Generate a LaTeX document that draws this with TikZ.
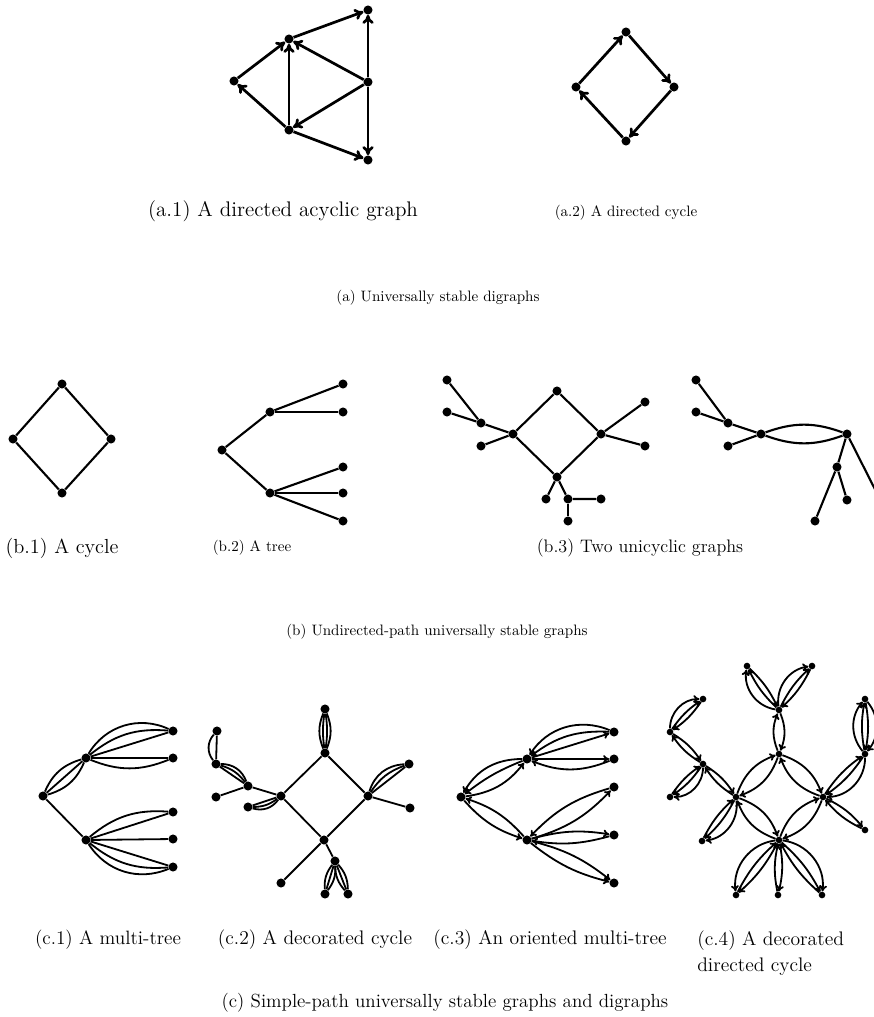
\documentclass[tikz,border=0pt]{standalone}
\usetikzlibrary{arrows.meta}

\tikzset{
  vert/.style={circle,fill=black,inner sep=0pt,minimum size=6pt},
  svert/.style={circle,fill=black,inner sep=0pt,minimum size=4.4pt},
  thk/.style={line width=1.8pt},
  med/.style={line width=1.4pt},
  thn/.style={line width=1.2pt},
  tip/.style={-{To[length=6pt,width=7.5pt]}},
  stip/.style={-{To[length=4pt,width=5.2pt]}},
  lb/.style={bend left=#1},
  rb/.style={bend right=#1},
  cap/.style={font=\fontsize{#1}{14}\selectfont},
}

\begin{document}
\begin{tikzpicture}[x=0.0233cm,y=-0.0233cm]
\useasboundingbox (0,0) rectangle (874,1017);

% (a.1) acyclic digraph
\node[vert] (a1t) at (368,10) {};
\node[vert] (a1u) at (289,39) {};
\node[vert] (a1l) at (234,81) {};
\node[vert] (a1r) at (368,82) {};
\node[vert] (a1d) at (289,130) {};
\node[vert] (a1b) at (368,160) {};
\draw[thk,tip] (a1l) -- (a1u);
\draw[thk,tip] (a1u) -- (a1t);
\draw[thk,tip] (a1d) -- (a1l);
\draw[thk,tip] (a1d) -- (a1u);
\draw[thk,tip] (a1r) -- (a1u);
\draw[thk,tip] (a1r) -- (a1d);
\draw[thk,tip] (a1d) -- (a1b);
\draw[thk,tip] (a1r) -- (a1t);
\draw[thk,tip] (a1r) -- (a1b);
\node[cap=14] (a1cap) at (283,211) {(a.1) A directed acyclic graph};

% (a.2) directed cycle
\node[vert] (a2t) at (626,32) {};
\node[vert] (a2r) at (674,87) {};
\node[vert] (a2b) at (626,141) {};
\node[vert] (a2l) at (576,87) {};
\draw[thk,tip] (a2l) -- (a2t);
\draw[thk,tip] (a2t) -- (a2r);
\draw[thk,tip] (a2r) -- (a2b);
\draw[thk,tip] (a2b) -- (a2l);
\node[cap=10] (a2cap) at (626,213) {(a.2) A directed cycle};

\node[cap=10] (acap) at (438,298) {(a) Universally stable digraphs};

% (b.1) cycle
\node[vert] (b1t) at (62,384) {};
\node[vert] (b1l) at (13,439) {};
\node[vert] (b1r) at (111,439) {};
\node[vert] (b1b) at (62,493) {};
\draw[med] (b1t) -- (b1r) -- (b1b) -- (b1l) -- (b1t);
\node[cap=13.5] (b1cap) at (62,548) {(b.1) A cycle};

% (b.2) tree
\node[vert] (b2r) at (222,450) {};
\node[vert] (b2u) at (270,412) {};
\node[vert] (b2d) at (270,493) {};
\node[vert] (b2a) at (343,384) {};
\node[vert] (b2b) at (343,412) {};
\node[vert] (b2c) at (343,467) {};
\node[vert] (b2e) at (343,493) {};
\node[vert] (b2f) at (343,521) {};
\draw[med] (b2r) -- (b2u);
\draw[med] (b2r) -- (b2d);
\draw[med] (b2u) -- (b2a);
\draw[med] (b2u) -- (b2b);
\draw[med] (b2d) -- (b2c);
\draw[med] (b2d) -- (b2e);
\draw[med] (b2d) -- (b2f);
\node[cap=10] (b2cap) at (252,548) {(b.2) A tree};

% (b.3) first unicyclic graph
\node[vert] (u1) at (447,380) {};
\node[vert] (u2) at (447,412) {};
\node[vert] (u3) at (481,423) {};
\node[vert] (u4) at (481,446) {};
\node[vert] (u5) at (513,434) {};
\node[vert] (u6) at (557,391) {};
\node[vert] (u7) at (601,434) {};
\node[vert] (u8) at (557,477) {};
\node[vert] (u9) at (645,402) {};
\node[vert] (u10) at (645,446) {};
\node[vert] (u11) at (546,499) {};
\node[vert] (u12) at (568,499) {};
\node[vert] (u13) at (601,499) {};
\node[vert] (u14) at (568,521) {};
\draw[med] (u1) -- (u3);
\draw[med] (u2) -- (u3) -- (u5);
\draw[med] (u4) -- (u5);
\draw[med] (u5) -- (u6) -- (u7) -- (u8) -- (u5);
\draw[med] (u7) -- (u9);
\draw[med] (u7) -- (u10);
\draw[med] (u8) -- (u11);
\draw[med] (u8) -- (u12) -- (u13);
\draw[med] (u12) -- (u14);

% (b.3) second unicyclic graph
\node[vert] (s1) at (696,380) {};
\node[vert] (s2) at (696,412) {};
\node[vert] (s3) at (728,423) {};
\node[vert] (s4) at (728,446) {};
\node[vert] (s5) at (761,434) {};
\node[vert] (s6) at (847,434) {};
\node[vert] (s7) at (837,467) {};
\node[vert] (s8) at (815,521) {};
\node[vert] (s9) at (847,500) {};
\node[vert] (s10) at (891,521) {};
\draw[med] (s1) -- (s3);
\draw[med] (s2) -- (s3) -- (s5);
\draw[med] (s4) -- (s5);
\draw[med] (s5) to[lb=20] (s6);
\draw[med] (s5) to[rb=20] (s6);
\draw[med] (s6) -- (s7) -- (s8);
\draw[med] (s7) -- (s9);
\draw[med] (s6) -- (s10);
\node[cap=12] (b3cap) at (640,548) {(b.3) Two unicyclic graphs};

\node[cap=10] (bcap) at (437,632) {(b) Undirected-path universally stable graphs};

% (c.1) multi-tree
\node[vert] (c1r) at (43,796) {};
\node[vert] (c1u) at (86,758) {};
\node[vert] (c1d) at (86,840) {};
\node[vert] (c1a) at (173,731) {};
\node[vert] (c1b) at (173,758) {};
\node[vert] (c1c) at (173,812) {};
\node[vert] (c1e) at (173,839) {};
\node[vert] (c1f) at (173,867) {};
\draw[thn] (c1r) -- (c1u);
\draw[thn] (c1r) to[lb=25] (c1u);
\draw[thn] (c1r) to[rb=25] (c1u);
\draw[thn] (c1r) -- (c1d);
\draw[thn] (c1u) -- (c1a);
\draw[thn] (c1u) to[lb=22] (c1a);
\draw[thn] (c1u) to[lb=42] (c1a);
\draw[thn] (c1u) -- (c1b);
\draw[thn] (c1u) to[rb=22] (c1b);
\draw[thn] (c1d) -- (c1c);
\draw[thn] (c1d) to[lb=22] (c1c);
\draw[thn] (c1d) -- (c1e);
\draw[thn] (c1d) -- (c1f);
\draw[thn] (c1d) to[rb=22] (c1f);
\draw[thn] (c1d) to[rb=40] (c1f);
\node[cap=12.8] (c1cap) at (108,940) {(c.1) A multi-tree};

% (c.2) decorated cycle
\node[vert] (c2t) at (325,753) {};
\node[vert] (c2l) at (281,796) {};
\node[vert] (c2r) at (368,796) {};
\node[vert] (c2b) at (324,840) {};
\node[vert] (c2e) at (325,709) {};
\node[vert] (c2m) at (248,786) {};
\node[vert] (c2s) at (216,797) {};
\node[vert] (c2u) at (216,764) {};
\node[vert] (c2v) at (217,731) {};
\node[vert] (c2w) at (248,807) {};
\node[vert] (c2x) at (409,764) {};
\node[vert] (c2y) at (410,808) {};
\node[vert] (c2z) at (281,883) {};
\node[vert] (c2n) at (335,861) {};
\node[vert] (c2p) at (325,894) {};
\node[vert] (c2q) at (348,894) {};
\draw[thn] (c2t) -- (c2r) -- (c2b) -- (c2l) -- (c2t);
\draw[thn] (c2t) to[lb=8] (c2e);
\draw[thn] (c2t) to[lb=22] (c2e);
\draw[thn] (c2t) to[rb=8] (c2e);
\draw[thn] (c2t) to[rb=22] (c2e);
\draw[thn] (c2l) -- (c2m) -- (c2s);
\draw[thn] (c2u) -- (c2m);
\draw[thn] (c2u) to[lb=18] (c2m);
\draw[thn] (c2u) to[lb=35] (c2m);
\draw[thn] (c2u) -- (c2v);
\draw[thn] (c2u) to[lb=40] (c2v);
\draw[thn] (c2l) -- (c2w);
\draw[thn] (c2l) to[lb=18] (c2w);
\draw[thn] (c2l) to[lb=35] (c2w);
\draw[thn] (c2r) -- (c2x);
\draw[thn] (c2r) to[lb=18] (c2x);
\draw[thn] (c2r) to[lb=35] (c2x);
\draw[thn] (c2r) -- (c2y);
\draw[thn] (c2b) -- (c2z);
\draw[thn] (c2b) -- (c2n);
\draw[thn] (c2n) -- (c2p);
\draw[thn] (c2n) to[lb=20] (c2p);
\draw[thn] (c2n) to[rb=20] (c2p);
\draw[thn] (c2n) -- (c2q);
\draw[thn] (c2n) to[lb=20] (c2q);
\draw[thn] (c2n) to[rb=20] (c2q);
\node[cap=13] (c2cap) at (315,940) {(c.2) A decorated cycle};

% (c.3) oriented multi-tree
\node[vert] (c3r) at (461,797) {};
\node[vert] (c3u) at (527,759) {};
\node[vert] (c3d) at (527,840) {};
\node[vert] (c3a) at (614,732) {};
\node[vert] (c3b) at (614,759) {};
\node[vert] (c3c) at (614,787) {};
\node[vert] (c3e) at (614,835) {};
\node[vert] (c3f) at (614,883) {};
\draw[thn,stip] (c3u) to[rb=30] (c3r);
\draw[thn,stip] (c3u) to[rb=8] (c3r);
\draw[thn,stip] (c3r) to[rb=22] (c3u);
\draw[thn,stip] (c3d) to[rb=15] (c3r);
\draw[thn,stip] (c3r) to[rb=15] (c3d);
\draw[thn,stip] (c3a) to[rb=40] (c3u);
\draw[thn,stip] (c3a) to[rb=20] (c3u);
\draw[thn,stip] (c3u) -- (c3a);
\draw[thn,stip] (c3u) -- (c3b);
\draw[thn,stip] (c3b) to[lb=22] (c3u);
\draw[thn,stip] (c3d) to[rb=15] (c3c);
\draw[thn,stip] (c3c) to[rb=15] (c3d);
\draw[thn,stip] (c3d) to[lb=12] (c3e);
\draw[thn,stip] (c3e) to[lb=12] (c3d);
\draw[thn,stip] (c3d) to[lb=12] (c3f);
\draw[thn,stip] (c3d) to[rb=12] (c3f);
\node[cap=13] (c3cap) at (550,940) {(c.3) An oriented multi-tree};

% (c.4) decorated directed cycle
\node[svert] (c4a) at (779,710) {};
\node[svert] (c4b) at (747,666) {};
\node[svert] (c4c) at (812,666) {};
\node[svert] (c4d) at (779,754) {};
\node[svert] (c4e) at (736,797) {};
\node[svert] (c4f) at (823,797) {};
\node[svert] (c4g) at (779,840) {};
\node[svert] (c4h) at (703,764) {};
\node[svert] (c4i) at (670,732) {};
\node[svert] (c4j) at (703,699) {};
\node[svert] (c4k) at (670,797) {};
\node[svert] (c4l) at (702,841) {};
\node[svert] (c4m) at (865,754) {};
\node[svert] (c4n) at (865,699) {};
\node[svert] (c4o) at (865,830) {};
\node[svert] (c4p) at (736,895) {};
\node[svert] (c4q) at (778,895) {};
\node[svert] (c4r) at (822,895) {};
% the cycle itself
\draw[thn,stip] (c4d) to[lb=25] (c4e);
\draw[thn,stip] (c4e) to[lb=25] (c4d);
\draw[thn,stip] (c4d) to[lb=25] (c4f);
\draw[thn,stip] (c4f) to[lb=25] (c4d);
\draw[thn,stip] (c4e) to[lb=25] (c4g);
\draw[thn,stip] (c4g) to[lb=25] (c4e);
\draw[thn,stip] (c4f) to[lb=25] (c4g);
\draw[thn,stip] (c4g) to[lb=25] (c4f);
% top branch
\draw[thn,stip] (c4a) to[lb=22] (c4d);
\draw[thn,stip] (c4d) to[lb=22] (c4a);
\draw[thn,stip] (c4a) to[lb=45] (c4b);
\draw[thn,stip] (c4a) to[lb=10] (c4b);
\draw[thn,stip] (c4b) to[lb=10] (c4a);
\draw[thn,stip] (c4a) to[lb=45] (c4c);
\draw[thn,stip] (c4a) to[lb=10] (c4c);
\draw[thn,stip] (c4c) to[lb=10] (c4a);
% left branch
\draw[thn,stip] (c4e) to[lb=12] (c4h);
\draw[thn,stip] (c4h) to[lb=12] (c4e);
\draw[thn,stip] (c4h) to[lb=12] (c4i);
\draw[thn,stip] (c4i) to[lb=12] (c4h);
\draw[thn,stip] (c4i) to[lb=45] (c4j);
\draw[thn,stip] (c4i) to[lb=10] (c4j);
\draw[thn,stip] (c4j) to[lb=10] (c4i);
\draw[thn,stip] (c4h) to[lb=45] (c4k);
\draw[thn,stip] (c4h) to[lb=10] (c4k);
\draw[thn,stip] (c4k) to[lb=10] (c4h);
\draw[thn,stip] (c4e) to[lb=45] (c4l);
\draw[thn,stip] (c4e) to[lb=10] (c4l);
\draw[thn,stip] (c4l) to[lb=10] (c4e);
% right branch
\draw[thn,stip] (c4m) to[lb=45] (c4f);
\draw[thn,stip] (c4m) to[lb=10] (c4f);
\draw[thn,stip] (c4f) to[lb=10] (c4m);
\draw[thn,stip] (c4m) to[lb=40] (c4n);
\draw[thn,stip] (c4n) to[lb=40] (c4m);
\draw[thn,stip] (c4m) to[lb=10] (c4n);
\draw[thn,stip] (c4n) to[lb=10] (c4m);
\draw[thn,stip] (c4f) to[lb=12] (c4o);
\draw[thn,stip] (c4o) to[lb=12] (c4f);
% bottom branch
\draw[thn,stip] (c4g) to[rb=45] (c4p);
\draw[thn,stip] (c4g) to[lb=10] (c4p);
\draw[thn,stip] (c4p) to[lb=10] (c4g);
\draw[thn,stip] (c4g) to[lb=12] (c4q);
\draw[thn,stip] (c4q) to[lb=12] (c4g);
\draw[thn,stip] (c4g) to[lb=45] (c4r);
\draw[thn,stip] (c4g) to[lb=10] (c4r);
\draw[thn,stip] (c4r) to[lb=10] (c4g);
\node[font=\fontsize{13}{17}\selectfont,align=left,anchor=west,inner xsep=0pt] (c4cap) at (697,953) {(c.4) A decorated\\directed cycle};

\node[cap=12.6] (ccap) at (445,1003) {(c) Simple-path universally stable graphs and digraphs};

\end{tikzpicture}
\end{document}
